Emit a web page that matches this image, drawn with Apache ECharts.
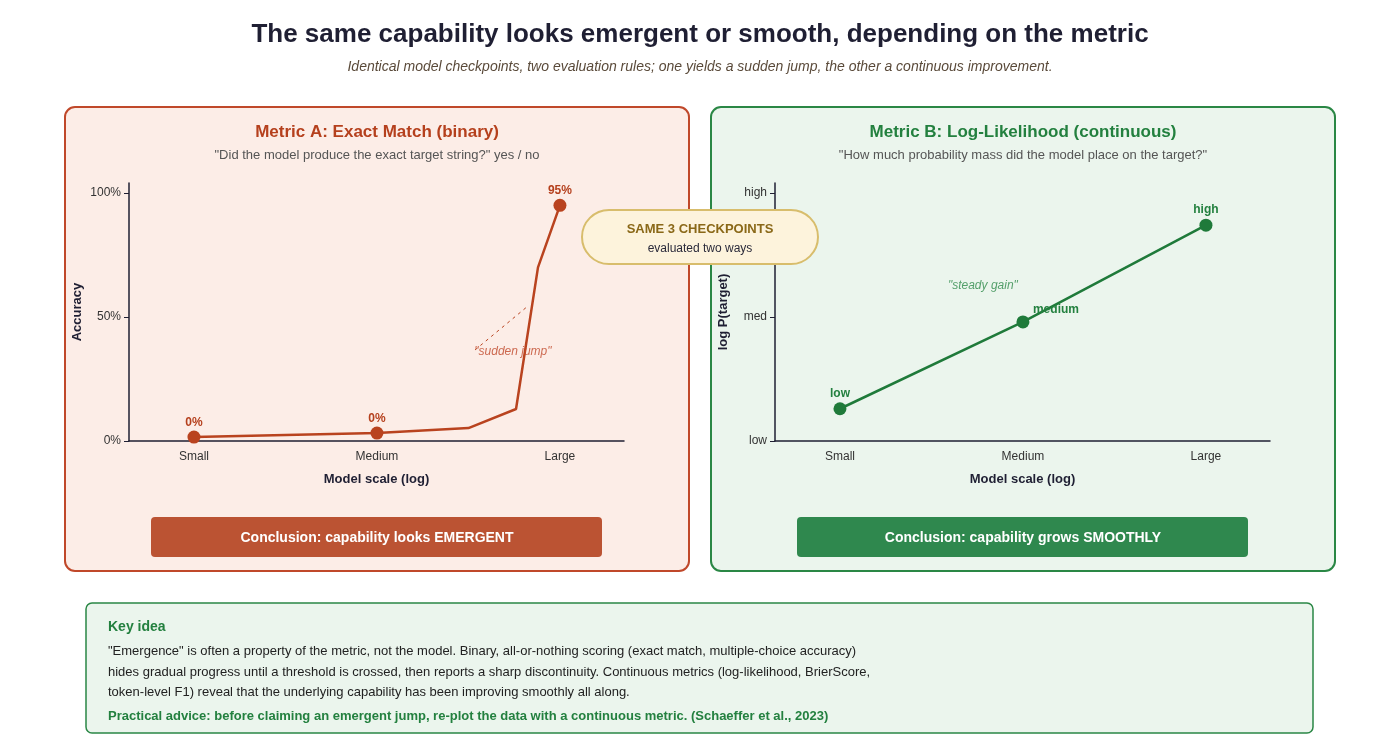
<!DOCTYPE html>
<html>
<head>
<meta charset="utf-8">
<script src="https://cdn.jsdelivr.net/npm/echarts@6/dist/echarts.min.js"></script>
<style>
html,body{margin:0;padding:0;background:#ffffff;}
#chart{width:1400px;height:754px;}
</style>
</head>
<body>
<div id="chart"></div>
<script>
// ---- data ----
const checkpoints = ['Small', 'Medium', 'Large'];
const checkpointX = [0, 1, 2];
const exactMatch = [0.016, 0.032, 0.95];
const exactMatchLabels = ['0%', '0%', '95%'];
const exactMatchCurve = [[0, 0.016], [1, 0.032], [1.5, 0.052], [1.76, 0.129], [1.88, 0.70], [2, 0.95]];
const logLik = [0.13, 0.48, 0.87];
const logLikLabels = ['low', 'medium', 'high'];
const accTickValues = [0, 0.5, 1];
const accTickLabels = ['0%', '50%', '100%'];
const lpTickLabels = ['low', 'med', 'high'];

const FONT = '"Liberation Sans", Arial, Helvetica, sans-serif';
const RED = '#b9431f';
const RED_T = '#b5401d';
const GREEN = '#1f7a3a';
const GREEN_T = '#23803f';
const DARK = '#1f1f33';

function xAxisCfg(gi) {
  return {
    type: 'value', gridIndex: gi, min: -0.355, max: 2.35,
    name: 'Model scale (log)', nameLocation: 'middle', nameGap: 32,
    nameTextStyle: { fontFamily: FONT, fontWeight: 'bold', fontSize: 13, color: DARK },
    axisLine: { onZero: false, lineStyle: { color: DARK, width: 1.5 } },
    axisTick: { show: false },
    splitLine: { show: false },
    axisLabel: {
      customValues: checkpointX, margin: 10,
      fontFamily: FONT, fontSize: 12, color: '#333',
      formatter: v => checkpoints[Math.round(v)]
    }
  };
}
function yAxisCfg(gi, name, labels) {
  return {
    type: 'value', gridIndex: gi, min: 0, max: 1.04,
    name: name, nameLocation: 'middle', nameGap: 45, nameRotate: 90,
    nameTextStyle: { fontFamily: FONT, fontWeight: 'bold', fontSize: 13, color: DARK },
    axisLine: { show: true, onZero: false, lineStyle: { color: DARK, width: 1.5 } },
    axisTick: { show: true, customValues: accTickValues, length: 5, lineStyle: { color: DARK, width: 1 } },
    splitLine: { show: false },
    axisLabel: {
      customValues: accTickValues, margin: 8,
      fontFamily: FONT, fontSize: 12, color: '#333',
      formatter: v => labels[accTickValues.indexOf(v)]
    }
  };
}

const bodyLines = [
  '"Emergence" is often a property of the metric, not the model. Binary, all-or-nothing scoring (exact match, multiple-choice accuracy)',
  'hides gradual progress until a threshold is crossed, then reports a sharp discontinuity. Continuous metrics (log-likelihood, BrierScore,',
  'token-level F1) reveal that the underlying capability has been improving smoothly all along.'
];

const chart = echarts.init(document.getElementById('chart'));
const option = {
  backgroundColor: '#ffffff',
  animation: false,
  grid: [
    { left: 129, top: 183, width: 495, height: 258, containLabel: false },
    { left: 775, top: 183, width: 495, height: 258, containLabel: false }
  ],
  xAxis: [xAxisCfg(0), xAxisCfg(1)],
  yAxis: [yAxisCfg(0, 'Accuracy', accTickLabels), yAxisCfg(1, 'log P(target)', lpTickLabels)],
  graphic: [
    // panels
    { type: 'rect', z: -10, shape: { x: 65, y: 107, width: 624, height: 464, r: 10 }, style: { fill: '#fcede7', stroke: '#c0482a', lineWidth: 2 } },
    { type: 'rect', z: -10, shape: { x: 711, y: 107, width: 624, height: 464, r: 10 }, style: { fill: '#ebf5ed', stroke: '#2a8745', lineWidth: 2 } },
    // titles
    { type: 'text', x: 700, y: 35, style: { text: 'The same capability looks emergent or smooth, depending on the metric', font: 'bold 26px ' + FONT, fill: DARK, align: 'center', verticalAlign: 'middle' } },
    { type: 'text', x: 700, y: 67, style: { text: 'Identical model checkpoints, two evaluation rules; one yields a sudden jump, the other a continuous improvement.', font: 'italic 14px ' + FONT, fill: '#5a4a3a', align: 'center', verticalAlign: 'middle' } },
    { type: 'text', x: 377, y: 132, style: { text: 'Metric A: Exact Match (binary)', font: 'bold 17px ' + FONT, fill: RED_T, align: 'center', verticalAlign: 'middle' } },
    { type: 'text', x: 377, y: 155, style: { text: '"Did the model produce the exact target string?" yes / no', font: '13px ' + FONT, fill: '#555', align: 'center', verticalAlign: 'middle' } },
    { type: 'text', x: 1023, y: 132, style: { text: 'Metric B: Log-Likelihood (continuous)', font: 'bold 17px ' + FONT, fill: GREEN_T, align: 'center', verticalAlign: 'middle' } },
    { type: 'text', x: 1023, y: 155, style: { text: '"How much probability mass did the model place on the target?"', font: '13px ' + FONT, fill: '#555', align: 'center', verticalAlign: 'middle' } },
    // conclusion buttons
    { type: 'rect', z: 5, shape: { x: 151, y: 517, width: 451, height: 40, r: 4 }, style: { fill: '#bb5333' } },
    { type: 'text', z: 6, x: 377, y: 538, style: { text: 'Conclusion: capability looks EMERGENT', font: 'bold 14px ' + FONT, fill: '#ffffff', align: 'center', verticalAlign: 'middle' } },
    { type: 'rect', z: 5, shape: { x: 797, y: 517, width: 451, height: 40, r: 4 }, style: { fill: '#2f884e' } },
    { type: 'text', z: 6, x: 1023, y: 538, style: { text: 'Conclusion: capability grows SMOOTHLY', font: 'bold 14px ' + FONT, fill: '#ffffff', align: 'center', verticalAlign: 'middle' } },
    // badge
    { type: 'rect', z: 50, shape: { x: 582, y: 210, width: 236, height: 54, r: 27 }, style: { fill: '#fdf3dc', stroke: '#d8bd6c', lineWidth: 2 } },
    { type: 'text', z: 51, x: 700, y: 229, style: { text: 'SAME 3 CHECKPOINTS', font: 'bold 13px ' + FONT, fill: '#8a6818', align: 'center', verticalAlign: 'middle' } },
    { type: 'text', z: 51, x: 700, y: 249, style: { text: 'evaluated two ways', font: '12px ' + FONT, fill: '#2a2a3a', align: 'center', verticalAlign: 'middle' } },
    // key idea box
    { type: 'rect', z: -10, shape: { x: 86, y: 603, width: 1227, height: 130, r: 6 }, style: { fill: '#ebf5ed', stroke: '#2a8745', lineWidth: 1.5 } },
    { type: 'text', x: 108, y: 627, style: { text: 'Key idea', font: 'bold 14px ' + FONT, fill: GREEN_T, align: 'left', verticalAlign: 'middle' } },
    { type: 'text', x: 108, y: 651, style: { text: bodyLines[0], font: '13px ' + FONT, fill: '#222', align: 'left', verticalAlign: 'middle' } },
    { type: 'text', x: 108, y: 672, style: { text: bodyLines[1], font: '13px ' + FONT, fill: '#222', align: 'left', verticalAlign: 'middle' } },
    { type: 'text', x: 108, y: 692, style: { text: bodyLines[2], font: '13px ' + FONT, fill: '#222', align: 'left', verticalAlign: 'middle' } },
    { type: 'text', x: 108, y: 716, style: { text: 'Practical advice: before claiming an emergent jump, re-plot the data with a continuous metric. (Schaeffer et al., 2023)', font: 'bold 13px ' + FONT, fill: GREEN_T, align: 'left', verticalAlign: 'middle' } }
  ],
  series: [
    {
      type: 'line', xAxisIndex: 0, yAxisIndex: 0, data: exactMatchCurve,
      showSymbol: false, symbol: 'none', lineStyle: { color: RED, width: 2.5 }, z: 3,
      markLine: {
        silent: true, symbol: 'none', label: { show: false },
        lineStyle: { color: RED, type: [3, 4], width: 1 },
        data: [[{ coord: [1.536, 0.367] }, { coord: [1.825, 0.544] }]]
      }
    },
    {
      type: 'scatter', xAxisIndex: 0, yAxisIndex: 0, symbolSize: 13, z: 4,
      itemStyle: { color: RED, opacity: 1 },
      data: checkpointX.map((x, i) => [x, exactMatch[i]]),
      label: {
        show: true, position: 'top', distance: 2,
        fontFamily: FONT, fontWeight: 'bold', fontSize: 12, color: RED_T,
        formatter: p => exactMatchLabels[p.dataIndex]
      }
    },
    {
      type: 'scatter', xAxisIndex: 0, yAxisIndex: 0, symbolSize: 0, z: 5, silent: true,
      data: [[1.743, 0.359]],
      label: { show: true, position: 'inside', formatter: '"sudden jump"', fontFamily: FONT, fontStyle: 'italic', fontSize: 12, color: '#c0482a' }
    },
    {
      type: 'line', xAxisIndex: 1, yAxisIndex: 1, data: checkpointX.map((x, i) => [x, logLik[i]]),
      symbol: 'circle', symbolSize: 13, lineStyle: { color: GREEN, width: 2.5 }, itemStyle: { color: GREEN }, z: 3,
      label: {
        show: true, position: 'top', distance: 3,
        fontFamily: FONT, fontWeight: 'bold', fontSize: 12, color: GREEN_T,
        formatter: p => logLikLabels[p.dataIndex]
      },
      labelLayout: p => p.dataIndex === 1 ? { dx: 33, dy: 3 } : {}
    },
    {
      type: 'scatter', xAxisIndex: 1, yAxisIndex: 1, symbolSize: 0, z: 5, silent: true,
      data: [[0.781, 0.625]],
      label: { show: true, position: 'inside', formatter: '"steady gain"', fontFamily: FONT, fontStyle: 'italic', fontSize: 12, color: '#2e8a4a' }
    }
  ]
};
chart.setOption(option);
</script>
</body>
</html>
